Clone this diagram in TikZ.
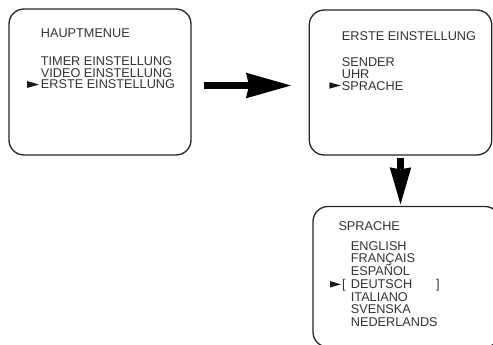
\documentclass[tikz,border=0pt]{standalone}
\usepackage{fontspec}
\setmainfont{Liberation Sans}
\usetikzlibrary{arrows.meta,positioning}

\tikzset{
  screen/.style={draw=black!85,line width=1.3pt,rounded corners=15pt,inner sep=0pt},
  menutext/.style={anchor=base west,inner sep=0pt,text=black!80,font=\fontsize{12.7}{12}\selectfont},
  pointer/.style={fill=black!90},
  bigarrow/.style={line width=7.6pt,-{Stealth[length=45pt,width=25.6pt,inset=3pt,line width=0pt]}},
  downarrow/.style={line width=7pt,-{Stealth[length=37pt,width=21.5pt,inset=2pt,line width=0pt]}},
}

\begin{document}
\begin{tikzpicture}[x=1pt,y=-1pt]
	\useasboundingbox (0,0) rectangle (493,345);
	% screens
	\node[screen,minimum width=182pt,minimum height=146pt] (hauptmenue) at (100,82) {};
	\node[screen,minimum width=182.5pt,minimum height=145pt] (ersteinst) at (400.5,82.5) {};
	\node[screen,minimum width=187pt,minimum height=140.5pt] (sprache) at (406.5,276.75) {};
	% hauptmenue
	\node[menutext] (haupt-t) at (40.7,37.7) {HAUPTMENUE};
	\foreach \txt [count=\i] in {TIMER EINSTELLUNG,VIDEO EINSTELLUNG,ERSTE EINSTELLUNG}
		\node[menutext] (haupt-\i) at (40.7,53.8+11.7*\i) {\txt};
	\fill[pointer] (27,81) -- (27,88) -- (39,84.5) -- cycle;
	% erste einstellung
	\node[menutext] (erste-t) at (341.7,41) {ERSTE EINSTELLUNG};
	\foreach \txt [count=\i] in {SENDER,UHR,SPRACHE}
		\node[menutext] (erste-\i) at (341.7,55+11.7*\i) {\txt};
	\fill[pointer] (329.3,82.3) -- (329.3,88.7) -- (340.7,85.5) -- cycle;
	% sprache
	\node[menutext] (spr-t) at (338.3,230) {SPRACHE};
	\foreach \txt [count=\i] in {ENGLISH,FRANÇAIS,ESPAÑOL,DEUTSCH,ITALIANO,SVENSKA,NEDERLANDS}
		\node[menutext] (spr-\i) at (350.7,237.22+12.78*\i) {\txt};
	\node[menutext] (lbr) at (342,288.3) {[};
	\node[menutext] (rbr) at (436,288.3) {]};
	\fill[pointer] (330,281) -- (330,287.5) -- (341,284.3) -- cycle;
	% arrows
	\draw[bigarrow,shorten <=12.3pt,shorten >=17.6pt] ([yshift=-3.5pt]hauptmenue.east) -- ([yshift=-3.5pt]hauptmenue.east -| ersteinst.west);
	\draw[downarrow,shorten <=2.3pt,shorten >=1.5pt] (ersteinst.south) -- (ersteinst.south |- sprache.north);
\end{tikzpicture}
\end{document}
